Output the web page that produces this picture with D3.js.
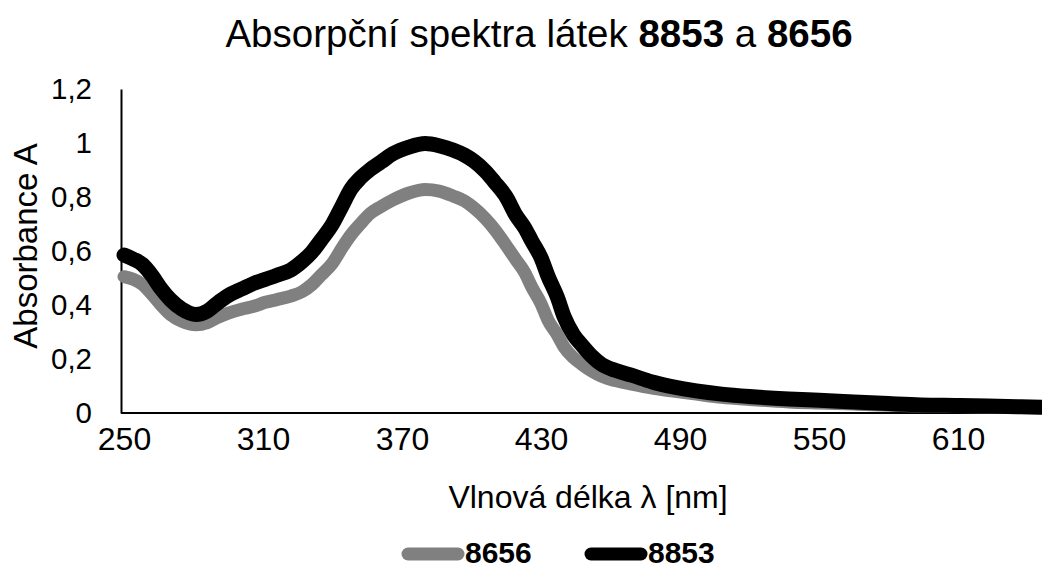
<!DOCTYPE html>
<html>
<head>
<meta charset="utf-8">
<script src="https://cdn.jsdelivr.net/npm/d3@7"></script>
<style>
  body { margin: 0; background: #fff; }
  text { font-family: "Liberation Sans", Arial, sans-serif; }
</style>
</head>
<body>
<div id="chart"></div>
<script>
// wavelengths in nm
var wavelength = [250,254,258,262,266,270,275,281,286,290,295,301,306,311,316,322,327,331,335,340,
    344,348,352,356,361,366,373,380,386,392,397,401,406,410,415,419,423,426,430,433,
    437,440,444,448,452,456,462,469,478,487,497,508,520,537,550,565,580,594,610,623,637,650];

var abs8853 = [0.585,0.57,0.55,0.51,0.46,0.42,0.385,0.365,0.378,0.405,0.435,0.46,0.48,0.495,0.51,0.53,0.562,0.595,0.64,0.70,
    0.765,0.83,0.87,0.90,0.93,0.96,0.985,0.998,0.99,0.974,0.955,0.933,0.895,0.855,0.80,0.735,0.685,0.637,0.575,0.507,
    0.43,0.356,0.29,0.248,0.21,0.181,0.158,0.14,0.115,0.097,0.082,0.070,0.061,0.052,0.047,0.041,0.035,0.030,0.028,0.026,0.023,0.021];

var abs8656 = [0.505,0.495,0.476,0.44,0.40,0.365,0.34,0.327,0.335,0.352,0.37,0.385,0.395,0.41,0.42,0.433,0.45,0.475,0.51,0.555,
    0.61,0.66,0.70,0.737,0.765,0.789,0.815,0.828,0.822,0.804,0.785,0.76,0.72,0.68,0.62,0.57,0.52,0.467,0.405,0.344,
    0.29,0.244,0.205,0.178,0.155,0.137,0.12,0.107,0.092,0.081,0.070,0.058,0.050,0.041,0.037,0.033,0.029,0.026,0.024,0.022,0.020,0.019];

var xTicks = [250,310,370,430,490,550,610];
var yTicks = [0,0.2,0.4,0.6,0.8,1,1.2];

var width = 1042, height = 570;

var svg = d3.select("#chart")
    .append("svg")
        .attr("width", width)
        .attr("height", height);

var xScale = d3.scaleLinear().domain([248.7, 650.5]).range([121, 121 + 401.8 * 2.3167]);
var yScale = d3.scaleLinear().domain([0, 1.2]).range([413, 89]);

// title
var title = svg.append("text")
    .attr("x", 539)
    .attr("y", 47)
    .attr("text-anchor", "middle")
    .style("font-size", "38.5px")
    .attr("fill", "#000");
title.append("tspan").text("Absorpční spektra látek ");
title.append("tspan").attr("font-weight", "bold").text("8853");
title.append("tspan").text(" a ");
title.append("tspan").attr("font-weight", "bold").text("8656");

// axes
var xAxis = svg.append("g")
    .attr("transform", "translate(0,413)")
    .call(d3.axisBottom(xScale).tickValues(xTicks).tickSize(0).tickPadding(14));
xAxis.select(".domain").attr("stroke", "#000").attr("stroke-width", 2)
    .attr("d", "M121,0H" + width);
xAxis.selectAll("text").style("font-size", "32px").attr("fill", "#000");

var yAxis = svg.append("g")
    .attr("transform", "translate(121,0)")
    .call(d3.axisLeft(yScale).tickValues(yTicks).tickSize(0).tickPadding(29)
        .tickFormat(function(d){ return String(d).replace(".", ","); }));
yAxis.select(".domain").attr("stroke", "#000").attr("stroke-width", 2);
yAxis.selectAll("text").style("font-size", "29.5px").attr("fill", "#000");

// axis titles
svg.append("text")
    .attr("x", 588)
    .attr("y", 508)
    .attr("text-anchor", "middle")
    .style("font-size", "32px")
    .text("Vlnová délka λ [nm]");

svg.append("text")
    .attr("transform", "translate(37,246)rotate(-90)")
    .attr("text-anchor", "middle")
    .style("font-size", "33px")
    .text("Absorbance A");

// lines
var series = [
    {name: "8656", values: abs8656, color: "#808080", w: 13},
    {name: "8853", values: abs8853, color: "#000000", w: 15}
];

var line = d3.line()
    .x(function(d){ return xScale(d[0]); })
    .y(function(d){ return yScale(d[1]); })
    .curve(d3.curveMonotoneX);

series.forEach(function(s){
    svg.append("path")
        .datum(wavelength.map(function(w, i){ return [w, s.values[i]]; }))
        .attr("d", line)
        .attr("fill", "none")
        .attr("stroke", s.color)
        .attr("stroke-width", s.w)
        .attr("stroke-linejoin", "round")
        .attr("stroke-linecap", "round");
});

// legend
var legendX = [408, 591];
series.forEach(function(s, i){
    svg.append("line")
        .attr("x1", legendX[i]).attr("x2", legendX[i] + 50)
        .attr("y1", 554).attr("y2", 554)
        .attr("stroke", s.color)
        .attr("stroke-width", 13)
        .attr("stroke-linecap", "round");
    svg.append("text")
        .attr("x", legendX[i] + 57)
        .attr("y", 563)
        .attr("font-weight", "bold")
        .style("font-size", "30px")
        .text(s.name);
});
</script>
</body>
</html>
